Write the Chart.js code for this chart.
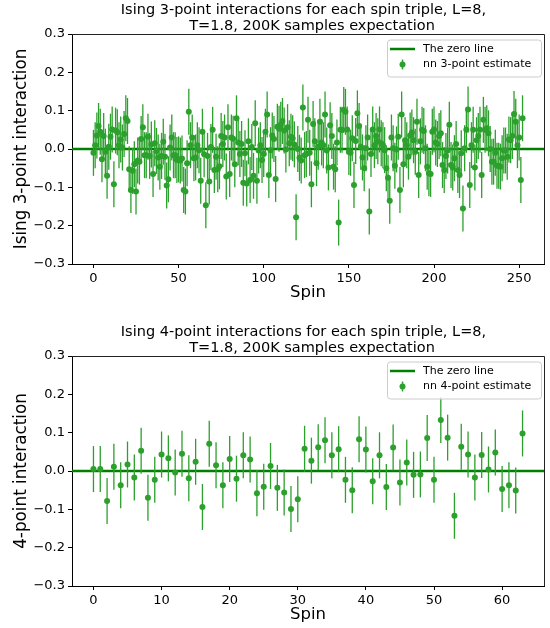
<!DOCTYPE html>
<html><head><meta charset="utf-8">
<script src="https://cdn.jsdelivr.net/npm/chart.js@4.4.1/dist/chart.umd.min.js"></script>
<style>
html,body{margin:0;padding:0;background:#fff;}
#wrap{position:relative;width:550px;height:628px;overflow:hidden;}
.box{position:absolute;left:0;width:550px;height:314px;}
canvas{display:block;}
</style></head><body>
<div id="wrap">
<div class="box" style="top:0"><canvas id="c1" width="550" height="314"></canvas></div>
<div class="box" style="top:314px"><canvas id="c2" width="550" height="314"></canvas></div>
</div>
<script>
// ---- data ----
const values3 = [
-0.010,0.010,0.035,0.060,0.045,-0.027,0.034,-0.007,-0.070,0.006,
0.032,0.051,-0.092,0.048,0.044,0.010,0.025,0.004,0.039,0.080,
0.073,-0.053,-0.107,-0.057,-0.040,-0.111,-0.030,-0.033,0.026,0.057,
-0.016,-0.016,0.032,-0.018,0.012,-0.065,0.015,-0.005,-0.022,-0.046,
-0.018,0.019,-0.020,-0.095,-0.079,0.004,0.030,-0.016,-0.016,-0.029,
-0.027,-0.030,-0.025,-0.107,-0.111,-0.037,0.097,0.010,0.030,-0.024,
-0.022,0.010,-0.003,-0.083,0.045,-0.014,-0.147,-0.018,-0.085,0.005,
0.050,-0.055,-0.020,-0.053,-0.045,0.034,0.013,0.030,-0.072,0.057,
-0.065,0.030,0.027,-0.040,0.080,0.017,-0.013,0.013,-0.088,-0.011,
-0.090,0.020,-0.081,0.005,-0.070,0.067,-0.083,-0.004,0.010,-0.029,
-0.013,0.045,0.090,-0.068,-0.003,0.035,0.026,-0.078,0.058,0.053,
0.063,0.073,0.048,-0.001,0.057,0.015,0.032,0.028,0.012,-0.178,
0.000,-0.023,-0.030,0.108,-0.016,-0.013,0.076,-0.010,-0.092,0.065,
0.020,-0.037,0.006,0.071,0.017,0.010,0.090,-0.004,-0.048,0.062,
0.034,-0.046,-0.053,0.017,-0.192,0.050,0.050,0.102,0.097,0.051,
-0.008,-0.010,0.028,-0.094,0.021,0.093,0.060,0.006,-0.022,-0.050,
0.002,0.030,-0.163,-0.013,0.051,0.010,0.034,0.020,0.051,0.015,
0.010,-0.003,-0.050,-0.075,-0.135,0.030,0.002,-0.044,-0.001,0.032,
-0.107,0.090,-0.040,0.023,0.010,-0.020,0.035,0.043,0.023,-0.007,
0.071,-0.068,0.020,0.050,0.047,0.002,-0.046,-0.063,-0.065,0.045,
0.051,0.017,0.013,0.034,0.041,-0.042,-0.055,-0.018,-0.004,0.063,
-0.042,-0.048,-0.024,0.013,-0.055,-0.068,-0.011,-0.155,0.002,0.050,
0.103,-0.094,0.010,0.050,-0.048,0.023,0.034,0.050,-0.068,0.076,
0.050,0.054,0.041,0.000,-0.033,-0.033,-0.010,-0.044,-0.044,-0.046,
-0.024,-0.004,-0.004,-0.020,0.025,0.023,0.034,0.091,0.071,0.010,
0.030,-0.081,0.080
];
const values4 = [
0.005,0.005,-0.078,0.011,-0.037,0.017,-0.017,0.053,-0.070,-0.023,
0.043,0.033,-0.004,0.045,-0.019,0.024,-0.094,0.071,0.015,-0.037,
0.031,-0.020,0.041,0.030,-0.058,-0.041,0.013,-0.044,-0.056,-0.099,
-0.074,0.058,0.027,0.062,0.080,0.041,0.057,-0.023,-0.050,0.083,
0.056,-0.027,0.041,-0.042,0.061,-0.030,0.022,-0.010,-0.009,0.086,
-0.023,0.133,0.087,-0.117,0.063,0.043,-0.017,0.042,0.004,0.048,
-0.047,-0.037,-0.051,0.098
];
const errorHalf3 = 0.06;
const errorHalf4 = 0.06;
const xTicks3 = [0,50,100,150,200,250];
const xTicks4 = [0,10,20,30,40,50,60];
const yTicks = [-0.3,-0.2,-0.1,0.0,0.1,0.2,0.3];
const title3 = ['Ising 3-point interactions for each spin triple, L=8,','T=1.8, 200K samples expectation'];
const title4 = ['Ising 4-point interactions for each spin triple, L=8,','T=1.8, 200K samples expectation'];
const yLabel3 = 'Ising 3-point interaction';
const yLabel4 = '4-point interaction';
const xLabel = 'Spin';
const legendZero = 'The zero line';
const legend3 = 'nn 3-point estimate';
const legend4 = 'nn 4-point estimate';

// ---- styles ----
const FONT = "'DejaVu Sans', sans-serif";
const ZERO_COLOR = '#008000';
const PT_COLOR = '#2ca02c';
Chart.defaults.font.family = FONT;
Chart.defaults.color = '#000';

function fmt(v){ const s = Number(v).toFixed(1); return s === '-0.0' ? '0.0' : s.replace('-', '\u2212'); }

const errorBars = {
  id: 'errorBars',
  beforeDatasetDraw(chart, args, opts) {
    if (args.index !== 1) return;
    const ctx = chart.ctx, ys = chart.scales.y, a = chart.chartArea;
    const err = chart.options.plugins.errorBars.err;
    ctx.save();
    ctx.beginPath(); ctx.rect(a.left, a.top, a.right - a.left, a.bottom - a.top); ctx.clip();
    ctx.strokeStyle = PT_COLOR; ctx.lineWidth = 1.3;
    args.meta.data.forEach((el, i) => {
      const v = chart.data.datasets[1].data[i].y;
      ctx.beginPath();
      ctx.moveTo(el.x, ys.getPixelForValue(v + err));
      ctx.lineTo(el.x, ys.getPixelForValue(v - err));
      ctx.stroke();
    });
    ctx.restore();
  }
};

const decor = {
  id: 'decor',
  afterDraw(chart) {
    const ctx = chart.ctx, a = chart.chartArea, o = chart.options.plugins.decor;
    ctx.save();
    // top & right spines
    ctx.strokeStyle = '#222'; ctx.lineWidth = 1;
    ctx.beginPath();
    ctx.moveTo(a.left, a.top + 0.5); ctx.lineTo(a.right + 0.5, a.top + 0.5);
    ctx.lineTo(a.right + 0.5, a.bottom);
    ctx.stroke();
    // title
    ctx.fillStyle = '#000'; ctx.font = '14.5px ' + FONT;
    ctx.textAlign = 'center'; ctx.textBaseline = 'middle';
    const cx = (a.left + a.right) / 2;
    ctx.fillText(o.title[0], cx - 4.5, a.top - 24);
    ctx.fillText(o.title[1], cx + 4, a.top - 8);
    // legend
    const x0 = a.right - 157, y0 = a.top + 5.5, w = 154, h = 37;
    ctx.beginPath();
    ctx.roundRect(x0 + 0.5, y0 + 0.5, w, h, 3);
    ctx.fillStyle = 'rgba(255,255,255,0.8)'; ctx.fill();
    ctx.strokeStyle = '#cccccc'; ctx.lineWidth = 1; ctx.stroke();
    ctx.strokeStyle = ZERO_COLOR; ctx.lineWidth = 2.5;
    ctx.beginPath(); ctx.moveTo(x0 + 3, y0 + 9.5); ctx.lineTo(x0 + 28, y0 + 9.5); ctx.stroke();
    ctx.strokeStyle = PT_COLOR; ctx.lineWidth = 1.5;
    ctx.beginPath(); ctx.moveTo(x0 + 15.5, y0 + 20); ctx.lineTo(x0 + 15.5, y0 + 30); ctx.stroke();
    ctx.fillStyle = PT_COLOR;
    ctx.beginPath(); ctx.arc(x0 + 15.5, y0 + 25, 3, 0, Math.PI * 2); ctx.fill();
    ctx.fillStyle = '#000'; ctx.font = '11px ' + FONT; ctx.textAlign = 'left';
    ctx.fillText(o.legend[0], x0 + 36, y0 + 9.5);
    ctx.fillText(o.legend[1], x0 + 36, y0 + 25);
    ctx.restore();
  }
};

function makeChart(id, values, err, xTicks, title, yLabel, legLabel, padTop, xAxisH, xTitlePad) {
  const n = values.length;
  const xMin = -0.05 * (n - 1), xMax = 1.05 * (n - 1);
  const pts = values.map((v, i) => ({ x: i, y: v }));
  return new Chart(document.getElementById(id), {
    data: {
      datasets: [
        { type: 'line', label: legendZero, data: [{ x: xMin, y: 0 }, { x: xMax, y: 0 }],
          borderColor: ZERO_COLOR, borderWidth: 2.5, pointRadius: 0, order: 2, fill: false },
        { type: 'scatter', label: legLabel, data: pts, backgroundColor: PT_COLOR,
          borderWidth: 0, pointRadius: 3, pointHoverRadius: 3, order: 1 }
      ]
    },
    options: {
      responsive: false, animation: false, devicePixelRatio: 1, events: [],
      layout: { padding: { top: padTop, right: 6, left: 0, bottom: 0 } },
      plugins: {
        legend: { display: false }, tooltip: { enabled: false }, title: { display: false },
        errorBars: { err: err },
        decor: { title: title, legend: [legendZero, legLabel] }
      },
      scales: {
        x: {
          type: 'linear', min: xMin, max: xMax,
          afterBuildTicks: s => { s.ticks = xTicks.map(v => ({ value: v })); },
          afterFit: s => { s.height = xAxisH; },
          ticks: { font: { size: 13 }, color: '#000', padding: 3, maxRotation: 0, autoSkip: false },
          grid: { display: true, drawOnChartArea: false, drawTicks: true, tickLength: 4, color: '#000', lineWidth: 1 },
          border: { display: true, color: '#000', width: 1 },
          title: { display: true, text: xLabel, font: { size: 16.5 }, color: '#000', padding: { top: 0, bottom: xTitlePad } }
        },
        y: {
          type: 'linear', min: -0.3, max: 0.3,
          afterBuildTicks: s => { s.ticks = yTicks.map(v => ({ value: v })); },
          afterFit: s => { s.width = 72; },
          ticks: { font: { size: 13 }, color: '#000', padding: 3, callback: v => fmt(v) },
          grid: { display: true, drawOnChartArea: false, drawTicks: true, tickLength: 4, color: '#000', lineWidth: 1 },
          border: { display: true, color: '#000', width: 1 },
          title: { display: true, text: yLabel, font: { size: 16.8 }, color: '#000', padding: { top: 12, bottom: 0 } }
        }
      }
    },
    plugins: [errorBars, decor]
  });
}

makeChart('c1', values3, errorHalf3, xTicks3, title3, yLabel3, legend3, 34, 50, 11);
makeChart('c2', values4, errorHalf4, xTicks4, title4, yLabel4, legend4, 42, 42, 3);
</script>
</body></html>
